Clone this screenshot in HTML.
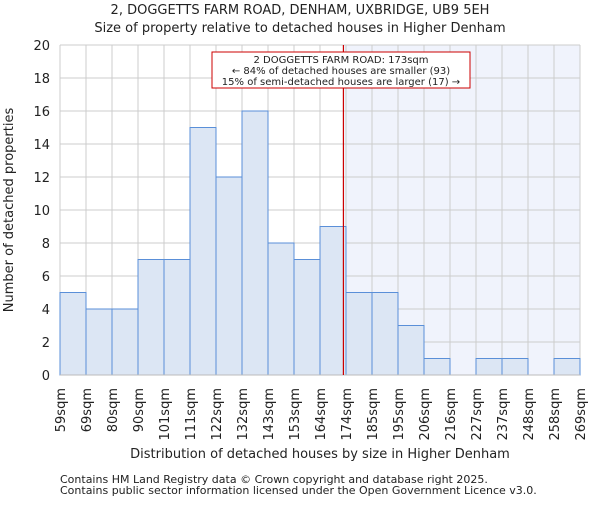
<!DOCTYPE html>
<html><head><meta charset="utf-8"><style>
body{margin:0;background:#fff}
text{font-family:"DejaVu Sans","Liberation Sans",sans-serif;fill:#222}
</style></head><body>
<svg id="chart" width="600" height="500" viewBox="0 0 600 500" xmlns="http://www.w3.org/2000/svg">
<text x="300" y="14" font-size="13" text-anchor="middle">2, DOGGETTS FARM ROAD, DENHAM, UXBRIDGE, UB9 5EH</text>
<text x="300" y="32" font-size="13" text-anchor="middle">Size of property relative to detached houses in Higher Denham</text>
<g id="plot"></g>
<text x="320" y="458" font-size="13" text-anchor="middle">Distribution of detached houses by size in Higher Denham</text>
<text transform="translate(13,210) rotate(-90)" font-size="13" text-anchor="middle">Number of detached properties</text>
<text x="60" y="483" font-size="11" fill="#444">Contains HM Land Registry data © Crown copyright and database right 2025.</text>
<text x="60" y="494" font-size="11" fill="#444">Contains public sector information licensed under the Open Government Licence v3.0.</text>
</svg>
<script>
const binLabels=["59sqm","69sqm","80sqm","90sqm","101sqm","111sqm","122sqm","132sqm","143sqm","153sqm","164sqm","174sqm","185sqm","195sqm","206sqm","216sqm","227sqm","237sqm","248sqm","258sqm","269sqm"];
const counts=[5,4,4,7,7,15,12,16,8,7,9,5,5,3,1,0,1,1,0,1];
const yTicks=[0,2,4,6,8,10,12,14,16,18,20];
const propertyBinPos=[10.9];
const NS="http://www.w3.org/2000/svg";
const L=60,R=580,T=45,B=375,yMax=20;
const nb=counts.length;
const x=i=>L+(R-L)*i/nb;
const y=v=>B-(B-T)*v/yMax;
const g=document.getElementById('plot');
function mk(t,a){const e=document.createElementNS(NS,t);for(const k in a)e.setAttribute(k,a[k]);g.appendChild(e);return e;}
const px=x(propertyBinPos[0]);
let e=mk('rect',{x:px,y:T,width:R-px,height:B-T,fill:'#f0f3fc'});


yTicks.forEach(v=>{
 let l=mk('line',{x1:L,x2:R,y1:y(v),y2:y(v),stroke:'#cccccc','stroke-width':1});
 
 
 let t=mk('text',{x:L-10,y:y(v)+5,'font-size':13,'text-anchor':'end'});
 t.textContent=v;
 
 
});
binLabels.forEach((s,i)=>{
 let l=mk('line',{x1:x(i),x2:x(i),y1:T,y2:B,stroke:'#cccccc','stroke-width':1});
 
 
 let t=mk('text',{transform:`translate(${x(i)+5},388) rotate(-90)`,'font-size':13,'text-anchor':'end'});
 t.textContent=s;
 
 
});
counts.forEach((c,i)=>{
 if(c<=0)return;
 let r=mk('rect',{x:x(i),y:y(c),width:x(i+1)-x(i),height:y(0)-y(c),fill:'#dce6f4',stroke:'#5a8fd8','stroke-width':1});
 
 
});
let ax=mk('line',{x1:L,x2:R,y1:B,y2:B,stroke:'#bbb'});


let ml=mk('line',{x1:px,x2:px,y1:T,y2:B,stroke:'#cc0000','stroke-width':1.2});


let box=mk('rect',{x:212,y:52,width:258,height:36,fill:'#fff',stroke:'#cc0000','stroke-width':1});


["2 DOGGETTS FARM ROAD: 173sqm","← 84% of detached houses are smaller (93)","15% of semi-detached houses are larger (17) →"].forEach((s,i)=>{
 let t=mk('text',{x:341,y:63+i*11,'font-size':10,'text-anchor':'middle'});
 t.textContent=s;
 
 
});
</script>
</body></html>
